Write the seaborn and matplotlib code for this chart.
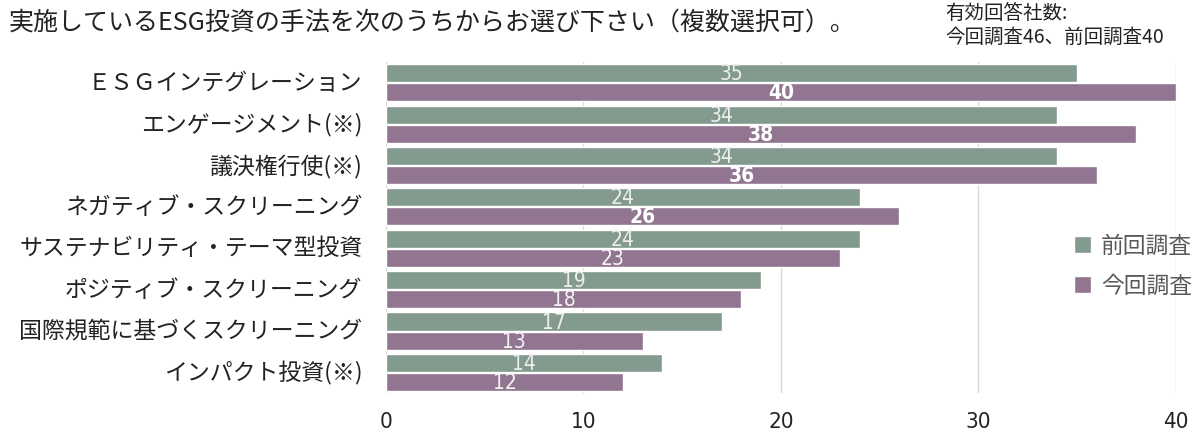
import pandas as pd
import matplotlib.pyplot as plt
import matplotlib.transforms as mtransforms
import seaborn as sns

# data
methods = ['ＥＳＧインテグレーション', 'エンゲージメント(※)', '議決権行使(※)',
           'ネガティブ・スクリーニング', 'サステナビリティ・テーマ型投資',
           'ポジティブ・スクリーニング', '国際規範に基づくスクリーニング', 'インパクト投資(※)']
prev_counts = [35, 34, 34, 24, 24, 19, 17, 14]
curr_counts = [40, 38, 36, 26, 23, 18, 13, 12]
series = ['前回調査', '今回調査']
x_ticks = [0, 10, 20, 30, 40]

df = pd.DataFrame({
    '手法': methods * 2,
    '調査': [series[0]] * len(methods) + [series[1]] * len(methods),
    '社数': prev_counts + curr_counts,
})

sns.set_style('white')
plt.rcParams['font.family'] = ['Noto Sans CJK JP', 'DejaVu Sans']
narrow = ['DejaVu Sans']

colors = {'前回調査': '#7f9f8f', '今回調査': '#957096'}

fig = plt.figure(figsize=(12.01, 4.35), dpi=100)
ax = fig.add_axes([0.3214, 0.094, 0.979 - 0.3214, 0.761])

sns.barplot(data=df, y='手法', x='社数', hue='調査', orient='h',
            palette=colors, width=0.92, gap=0.05, ax=ax, zorder=2)

ax.set_xlim(0, 40)
ax.set_xticks(x_ticks)
ax.xaxis.grid(True, color='#d9d9d9', linewidth=1, zorder=0)
ax.set_axisbelow(True)
sns.despine(ax=ax, left=True, bottom=True)
ax.set_xlabel('')
ax.set_ylabel('')
ax.tick_params(axis='both', length=0)
ax.tick_params(axis='y', labelsize=16.5, labelcolor='#222222', pad=17)
# category labels sit a little above the group centre
shift = mtransforms.ScaledTranslation(0, 3 / 100, fig.dpi_scale_trans)
for t in ax.get_yticklabels():
    t.set_transform(t.get_transform() + shift)
for t in ax.get_xticklabels():
    t.set_family(narrow)
    t.set_stretch('condensed')
    t.set_fontsize(16)
    t.set_color('#222222')
ax.tick_params(axis='x', pad=13)

# value labels
prev_txt = ax.bar_label(ax.containers[0], label_type='center',
                        color='#eeeeee', fontsize=15, family=narrow,
                        fontstretch='condensed')
curr_txt = ax.bar_label(ax.containers[1], label_type='center',
                        color='#f4f4f4', fontsize=15, family=narrow,
                        fontstretch='condensed')
for t, p, c in zip(curr_txt, prev_counts, curr_counts):
    if c > p:
        t.set_fontweight('bold')
        t.set_color('white')

# legend
handles, labels = ax.get_legend_handles_labels()
ax.legend(handles, labels, loc='center left', bbox_to_anchor=(0.845, 0.385),
          frameon=False, fontsize=16.4, labelcolor='#595959',
          handlelength=0.75, handleheight=0.75, handletextpad=0.45,
          labelspacing=0.75)

fig.text(0.007, 0.949, '実施しているESG投資の手法を次のうちからお選び下さい（複数選択可）。',
         fontsize=18, color='#222222', va='center', ha='left')
fig.text(0.787, 0.968, '有効回答社数:', fontsize=14, color='#222222',
         va='center', ha='left')
fig.text(0.787, 0.913, '今回調査46、前回調査40', fontsize=14, color='#222222',
         va='center', ha='left')

plt.savefig('out.png', dpi=100)
